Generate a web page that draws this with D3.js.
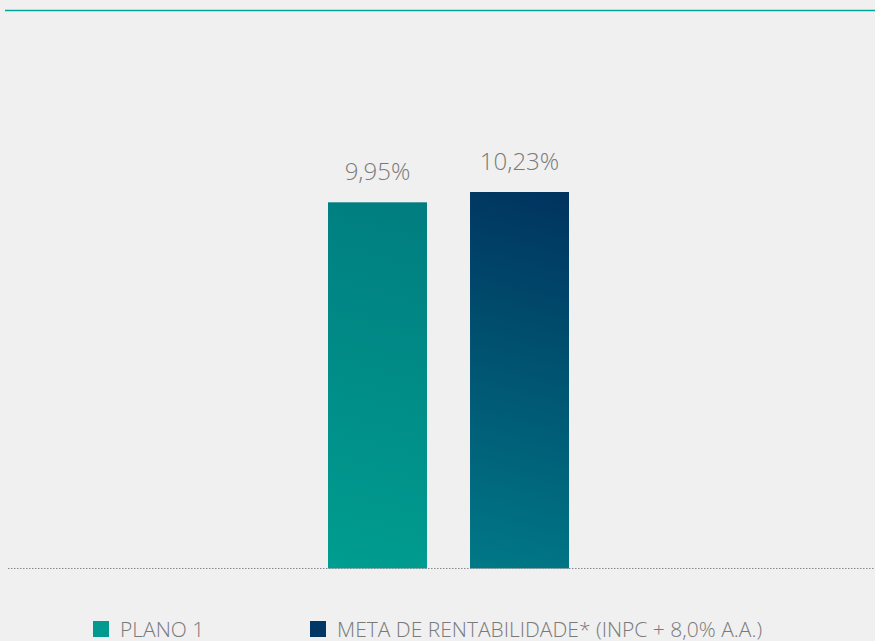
<!DOCTYPE html>
<html lang="pt">
<head>
<meta charset="utf-8">
<title>Rentabilidade</title>
<script src="https://d3js.org/d3.v7.min.js"></script>
<style>
  html, body { margin: 0; padding: 0; background: #f0f0f0; }
  svg { display: block; font-family: "Open Sans", "Noto Sans", sans-serif; }
</style>
</head>
<body>
<script>
// data
var categories = ["PLANO 1", "META DE RENTABILIDADE* (INPC + 8,0% A.A.)"];
var values = [9.95, 10.23];
var valueLabels = ["9,95%", "10,23%"];
var gradStops = [
  ["#009d90", "#007d80"],   // plano 1: bottom-left -> top-right
  ["#007987", "#00335f"]    // meta
];
var legendColors = ["#009a8f", "#003764"];

var width = 875, height = 641;
var baseY = 568.5;

var svg = d3.select("body").append("svg")
  .attr("width", width)
  .attr("height", height);

var x = d3.scaleBand()
  .domain(categories)
  .range([328, 569])
  .paddingInner(0.303)
  .paddingOuter(0);

var y = d3.scaleLinear()
  .domain([0, 10.23])
  .range([baseY, 192]);

// gradients, one per bar, running from bottom-left corner to top-right corner
var defs = svg.append("defs");
values.forEach(function(v, i) {
  var bx = x(categories[i]);
  var g = defs.append("linearGradient")
    .attr("id", "grad" + i)
    .attr("gradientUnits", "userSpaceOnUse")
    .attr("x1", bx).attr("y1", baseY)
    .attr("x2", bx + x.bandwidth()).attr("y2", y(v));
  g.append("stop").attr("offset", "0%").attr("stop-color", gradStops[i][0]);
  g.append("stop").attr("offset", "100%").attr("stop-color", gradStops[i][1]);
});

// top rule
svg.append("line")
  .attr("x1", 5).attr("x2", width)
  .attr("y1", 10.5).attr("y2", 10.5)
  .attr("stroke", "#00a59a")
  .attr("stroke-width", 1.5);

// bars
svg.selectAll("rect.bar")
  .data(values)
  .enter().append("rect")
  .attr("class", "bar")
  .attr("x", function(d, i) { return x(categories[i]); })
  .attr("width", x.bandwidth())
  .attr("y", function(d) { return y(d); })
  .attr("height", function(d) { return baseY - y(d); })
  .attr("fill", function(d, i) { return "url(#grad" + i + ")"; });

// value labels
svg.selectAll("text.val")
  .data(values)
  .enter().append("text")
  .attr("class", "val")
  .attr("x", function(d, i) { return x(categories[i]) + x.bandwidth() / 2; })
  .attr("y", function(d) { return y(d) - 22; })
  .attr("text-anchor", "middle")
  .attr("fill", "#7a7a7a")
  .style("font-size", "24px")
  .style("font-weight", 300)
  .text(function(d, i) { return valueLabels[i]; });

// dotted baseline
svg.append("line")
  .attr("x1", 8).attr("x2", width)
  .attr("y1", baseY).attr("y2", baseY)
  .attr("stroke", "#8a8a8a")
  .attr("stroke-width", 1)
  .attr("stroke-dasharray", "1.5,1.5");

// legend
var legendX = [93, 310];
var leg = svg.selectAll("g.legend")
  .data(categories)
  .enter().append("g")
  .attr("class", "legend")
  .attr("transform", function(d, i) { return "translate(" + legendX[i] + ",621)"; });

leg.append("rect")
  .attr("width", 16).attr("height", 16)
  .attr("fill", function(d, i) { return legendColors[i]; });

leg.append("text")
  .attr("x", 27)
  .attr("y", 16)
  .attr("fill", "#7a7a7a")
  .style("font-size", "21px")
  .style("font-weight", 300)
  .text(function(d) { return d; });
</script>
</body>
</html>
